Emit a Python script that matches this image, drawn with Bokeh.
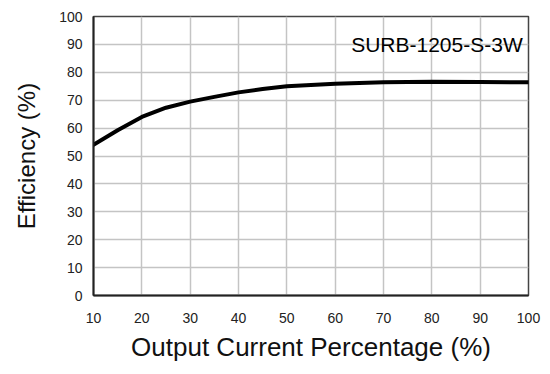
from bokeh.plotting import figure
from bokeh.models import Range1d, FixedTicker
from bokeh.core.properties import value
from bokeh.embed import file_html
from bokeh.resources import INLINE

# Data
load_pct = [10, 15, 20, 25, 30, 35, 40, 45, 50, 60, 70, 80, 90, 100]
efficiency = [54, 59.2, 64, 67.3, 69.5, 71.2, 72.8, 74, 75, 75.9, 76.4, 76.6, 76.5, 76.4]
x_ticks = [10, 20, 30, 40, 50, 60, 70, 80, 90, 100]
y_ticks = [0, 10, 20, 30, 40, 50, 60, 70, 80, 90, 100]
model_label = "SURB-1205-S-3W"

FONT = "Liberation Sans"

p = figure(width=542, height=366, output_backend="svg", toolbar_location=None,
           x_range=Range1d(10, 100), y_range=Range1d(0, 100),
           min_border_left=93, min_border_right=14, min_border_top=16, min_border_bottom=71)

p.background_fill_color = "white"
p.border_fill_color = "white"
p.outline_line_color = "#444444"
p.outline_line_width = 1.5

p.xgrid.ticker = FixedTicker(ticks=x_ticks)
p.ygrid.ticker = FixedTicker(ticks=y_ticks)
for g in (p.xgrid, p.ygrid):
    g.grid_line_color = "#c4c4c4"
    g.grid_line_width = 1.5

for ax in (p.xaxis, p.yaxis):
    ax.axis_line_color = "#222222"
    ax.axis_line_width = 2
    ax.major_tick_line_color = None
    ax.minor_tick_line_color = None
    ax.major_tick_out = 0
    ax.major_tick_in = 0
    ax.major_label_text_font = FONT
    ax.major_label_text_font_size = "14px"
    ax.major_label_text_color = "#222222"
    ax.axis_label_text_font = FONT
    ax.axis_label_text_font_style = "normal"
    ax.axis_label_text_color = "#111111"

p.xaxis.axis_label_text_font_size = "26px"
p.yaxis.axis_label_text_font_size = "24px"
p.xaxis.ticker = FixedTicker(ticks=x_ticks)
p.yaxis.ticker = FixedTicker(ticks=y_ticks)
p.xaxis.major_label_standoff = 17
p.yaxis.major_label_standoff = 11
p.xaxis.axis_label = "Output Current Percentage (%)"
p.yaxis.axis_label = "Efficiency (%)"
p.xaxis.axis_label_standoff = 6
p.yaxis.axis_label_standoff = 16

p.line(load_pct, efficiency, line_color="black", line_width=4, line_cap="round")

p.text(x=[98.8], y=[90], text=[model_label], text_align="right", text_baseline="middle",
       text_font=value(FONT), text_font_size="21px", text_color="black")

open("out.html", "w").write(file_html(p, INLINE))
